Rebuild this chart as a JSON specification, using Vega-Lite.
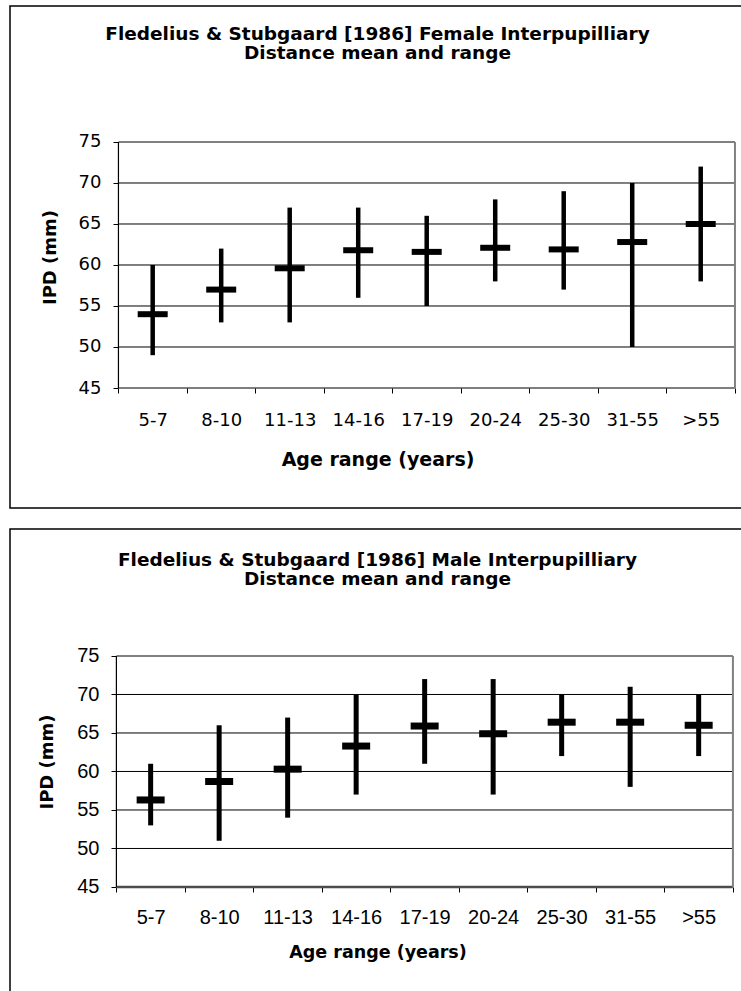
{
  "$schema": "https://vega.github.io/schema/vega-lite/v6.json",
  "description": "Fledelius & Stubgaard 1986 interpupillary distance, mean and range by age, female and male.",
  "padding": {"left": 9, "top": 5, "right": 0, "bottom": 0},
  "background": "white",
  "config": {
    "font": "DejaVu Sans",
    "view": {"stroke": "black", "strokeWidth": 1.5},
    "concat": {"spacing": 19},
    "title": {"fontSize": 18.5, "fontWeight": "bold", "color": "black", "anchor": "middle", "frame": "group", "baseline": "top", "lineHeight": 19, "offset": -56},
    "axis": {
      "domain": false, "grid": false, "tickColor": "black", "tickSize": 5,
      "labelColor": "black", "titleColor": "black", "titleFontWeight": "bold"
    }
  },
  "datasets": {
    "grid": [{"v": 50}, {"v": 55}, {"v": 60}, {"v": 65}, {"v": 70}],
    "female": [
      {"age": "5-7", "min": 49, "max": 60, "mean": 54.0},
      {"age": "8-10", "min": 53, "max": 62, "mean": 57.0},
      {"age": "11-13", "min": 53, "max": 67, "mean": 59.6},
      {"age": "14-16", "min": 56, "max": 67, "mean": 61.8},
      {"age": "17-19", "min": 55, "max": 66, "mean": 61.6},
      {"age": "20-24", "min": 58, "max": 68, "mean": 62.1},
      {"age": "25-30", "min": 57, "max": 69, "mean": 61.9},
      {"age": "31-55", "min": 50, "max": 70, "mean": 62.8},
      {"age": ">55", "min": 58, "max": 72, "mean": 65.0}
    ],
    "male": [
      {"age": "5-7", "min": 53, "max": 61, "mean": 56.3},
      {"age": "8-10", "min": 51, "max": 66, "mean": 58.7},
      {"age": "11-13", "min": 54, "max": 67, "mean": 60.3},
      {"age": "14-16", "min": 57, "max": 70, "mean": 63.3},
      {"age": "17-19", "min": 61, "max": 72, "mean": 65.9},
      {"age": "20-24", "min": 57, "max": 72, "mean": 64.9},
      {"age": "25-30", "min": 62, "max": 70, "mean": 66.4},
      {"age": "31-55", "min": 58, "max": 71, "mean": 66.4},
      {"age": ">55", "min": 62, "max": 70, "mean": 66.0}
    ]
  },
  "vconcat": [
    {
      "width": 735,
      "height": 502,
      "title": {"text": ["Fledelius & Stubgaard [1986] Female Interpupilliary", "Distance mean and range"]},
      "layer": [
        {
          "data": {"name": "female"},
          "mark": {"type": "rule", "color": "black", "strokeWidth": 4.5},
          "encoding": {
            "x": {
              "field": "age", "type": "nominal",
              "scale": {"domain": ["5-7", "8-10", "11-13", "14-16", "17-19", "20-24", "25-30", "31-55", ">55"], "paddingInner": 0, "paddingOuter": 0.8648, "align": 0.9153},
              "axis": {"title": "Age range (years)", "orient": "bottom", "offset": -120, "tickBand": "extent", "labelAngle": 0, "labelFontSize": 18, "labelPadding": 18, "titleFontSize": 19, "titlePadding": 21}
            },
            "y": {
              "field": "min", "type": "quantitative",
              "scale": {"domain": [30.366, 91.585], "nice": false, "zero": false},
              "axis": {"title": "IPD (mm)", "values": [45, 50, 55, 60, 65, 70, 75], "offset": -108, "labelFontSize": 18, "labelPadding": 12, "titleFontSize": 18, "titlePadding": 19}
            },
            "y2": {"field": "max"}
          }
        },
        {
          "data": {"name": "grid"},
          "mark": {"type": "rule", "color": "black", "strokeWidth": 1},
          "encoding": {
            "y": {"field": "v", "type": "quantitative"},
            "x": {"datum": "5-7", "type": "nominal", "bandPosition": 0},
            "x2": {"datum": ">55", "bandPosition": 1}
          }
        },
        {
          "data": {"values": [{}]},
          "mark": {"type": "rule", "color": "black", "strokeWidth": 1.2},
          "encoding": {
            "y": {"datum": 45, "type": "quantitative"},
            "x": {"datum": "5-7", "type": "nominal", "bandPosition": 0},
            "x2": {"datum": ">55", "bandPosition": 1}
          }
        },
        {
          "data": {"values": [{}]},
          "mark": {"type": "rule", "color": "#808080", "strokeWidth": 2},
          "encoding": {
            "y": {"datum": 75, "type": "quantitative"},
            "x": {"datum": "5-7", "type": "nominal", "bandPosition": 0},
            "x2": {"datum": ">55", "bandPosition": 1}
          }
        },
        {
          "data": {"values": [{}]},
          "mark": {"type": "rule", "color": "#808080", "strokeWidth": 2},
          "encoding": {
            "x": {"datum": ">55", "type": "nominal", "bandPosition": 1},
            "y": {"datum": 45, "type": "quantitative"},
            "y2": {"datum": 75}
          }
        },
        {
          "data": {"values": [{}]},
          "mark": {"type": "rule", "color": "black", "strokeWidth": 1.2},
          "encoding": {
            "x": {"datum": "5-7", "type": "nominal", "bandPosition": 0},
            "y": {"datum": 45, "type": "quantitative"},
            "y2": {"datum": 75}
          }
        },
        {
          "data": {"name": "female"},
          "mark": {"type": "tick", "color": "black", "opacity": 1, "size": 30, "thickness": 6, "orient": "horizontal"},
          "encoding": {
            "x": {"field": "age", "type": "nominal"},
            "y": {"field": "mean", "type": "quantitative"}
          }
        }
      ]
    },
    {
      "width": 735,
      "height": 465,
      "title": {"text": ["Fledelius & Stubgaard [1986] Male Interpupilliary", "Distance mean and range"], "offset": -59},
      "layer": [
        {
          "data": {"name": "male"},
          "mark": {"type": "rule", "color": "black", "strokeWidth": 5},
          "encoding": {
            "x": {
              "field": "age", "type": "nominal",
              "scale": {"domain": ["5-7", "8-10", "11-13", "14-16", "17-19", "20-24", "25-30", "31-55", ">55"], "paddingInner": 0, "paddingOuter": 0.8648, "align": 0.898},
              "axis": {"title": "Age range (years)", "orient": "bottom", "offset": -107, "tickBand": "extent", "labelAngle": 0, "labelFont": "Liberation Sans", "labelFontSize": 20, "labelPadding": 15, "titleFontSize": 17.5, "titlePadding": 16}
            },
            "y": {
              "field": "min", "type": "quantitative",
              "scale": {"domain": [31.1, 91.49], "nice": false, "zero": false},
              "axis": {"title": "IPD (mm)", "values": [45, 50, 55, 60, 65, 70, 75], "offset": -106, "labelFont": "Liberation Sans", "labelFontSize": 20, "labelPadding": 12, "titleFontSize": 18, "titlePadding": 20}
            },
            "y2": {"field": "max"}
          }
        },
        {
          "data": {"name": "grid"},
          "mark": {"type": "rule", "color": "black", "strokeWidth": 1},
          "encoding": {
            "y": {"field": "v", "type": "quantitative"},
            "x": {"datum": "5-7", "type": "nominal", "bandPosition": 0},
            "x2": {"datum": ">55", "bandPosition": 1}
          }
        },
        {
          "data": {"values": [{}]},
          "mark": {"type": "rule", "color": "#4d4d4d", "strokeWidth": 2.5},
          "encoding": {
            "y": {"datum": 45, "type": "quantitative"},
            "x": {"datum": "5-7", "type": "nominal", "bandPosition": 0},
            "x2": {"datum": ">55", "bandPosition": 1}
          }
        },
        {
          "data": {"values": [{}]},
          "mark": {"type": "rule", "color": "#808080", "strokeWidth": 2},
          "encoding": {
            "y": {"datum": 75, "type": "quantitative"},
            "x": {"datum": "5-7", "type": "nominal", "bandPosition": 0},
            "x2": {"datum": ">55", "bandPosition": 1}
          }
        },
        {
          "data": {"values": [{}]},
          "mark": {"type": "rule", "color": "#808080", "strokeWidth": 2},
          "encoding": {
            "x": {"datum": ">55", "type": "nominal", "bandPosition": 1},
            "y": {"datum": 45, "type": "quantitative"},
            "y2": {"datum": 75}
          }
        },
        {
          "data": {"values": [{}]},
          "mark": {"type": "rule", "color": "black", "strokeWidth": 1.2},
          "encoding": {
            "x": {"datum": "5-7", "type": "nominal", "bandPosition": 0},
            "y": {"datum": 45, "type": "quantitative"},
            "y2": {"datum": 75}
          }
        },
        {
          "data": {"name": "male"},
          "mark": {"type": "tick", "color": "black", "opacity": 1, "size": 28, "thickness": 7, "orient": "horizontal"},
          "encoding": {
            "x": {"field": "age", "type": "nominal"},
            "y": {"field": "mean", "type": "quantitative"}
          }
        }
      ]
    }
  ]
}
